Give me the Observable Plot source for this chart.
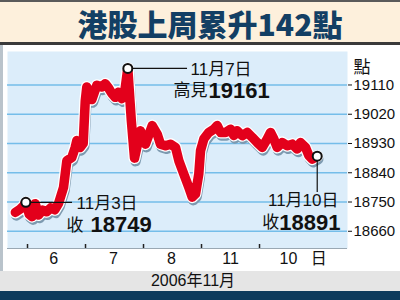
<!DOCTYPE html>
<html><head><meta charset="utf-8">
<script src="https://cdn.jsdelivr.net/npm/d3@7"></script>
<script src="https://cdn.jsdelivr.net/npm/@observablehq/plot@0.6"></script>
<style>
body{margin:0;background:#fff;}
#wrap{position:relative;width:400px;height:300px;background:#fff;overflow:hidden;font-family:"Liberation Sans","Noto Sans CJK TC",sans-serif;}
.abs{position:absolute;}
</style></head>
<body>
<div id="wrap">
  <div class="abs" style="left:0;top:0;width:400px;height:2px;background:#5a5a5a"></div>
  <div class="abs" style="left:0;top:2px;width:400px;height:40px;background:#fdf0dc;"></div>
  <div class="abs" style="left:0;top:3px;width:420px;height:40px;line-height:40px;text-align:center;font-family:'Noto Sans CJK TC',sans-serif;font-weight:900;font-size:30px;color:#133f64;">港股上周累升142點</div>
  <div class="abs" style="left:0;top:42px;width:400px;height:3px;background:#3a3a3a"></div>
  <div id="chart" class="abs" style="left:0;top:45px"></div>
  <div class="abs" style="left:0;top:45px;width:3px;height:226px;background:#b9c3cb"></div>
  <div class="abs" style="left:0;top:271px;width:400px;height:20px;line-height:20px;background:#e5e5e5;text-align:center;font-size:16px;color:#111;"><span style="position:relative;left:-7px">2006年11月</span></div>
  <div class="abs" style="left:0;top:291px;width:400px;height:9px;background:#0d3a5c"></div>
</div>
<script>
// intraday index (x in trading-day units) and Hang Seng values
const tPos = [0.79,0.874,0.931,0.971,1.03,1.08,1.133,1.19,1.26,1.33,1.40,1.47,1.534,1.621,1.678,1.764,1.822,1.85,1.909,1.96,
  1.995,2.022,2.081,2.109,2.195,2.281,2.34,2.40,2.453,2.512,2.569,2.626,2.68,2.729,2.79,2.845,2.948,3.034,3.15,3.236,
  3.293,3.379,3.466,3.552,3.609,3.695,3.781,3.84,3.897,3.953,3.983,4.04,4.126,4.212,4.271,4.328,4.414,4.5,4.558,4.616,
  4.702,4.788,4.874,4.96,5.047,5.133,5.19,5.247,5.305,5.391,5.478,5.564,5.65,5.707,5.793,5.85,5.908,5.995];
const vals = [18718,18728,18738,18749,18712,18705,18745,18710,18725,18720,18732,18726,18745,18795,18877,18887,18918,18939,18918,18930,
  19060,19104,19084,19065,19109,19104,19114,19100,19084,19072,19088,19068,19095,19161,19000,18885,18969,18928,18985,18959,
  18928,18923,18928,18918,18877,18836,18795,18765,18775,18836,18908,18944,18964,18974,18985,18964,18964,18974,18955,18969,
  18954,18964,18949,18933,18918,18944,18964,18944,18918,18933,18923,18928,18913,18933,18918,18893,18882,18891];
const yTicks = [18660, 18750, 18840, 18930, 19020, 19110];
const dayBreaks = [1, 2, 3, 4, 5];
const dayLabels = ["6", "7", "8", "11", "10", "日"];
const dayLabelPos = [1.45, 2.48, 3.48, 4.5, 5.5, 6.02];

// annotations
const markers = [{t: 0.971, v: 18749}, {t: 2.729, v: 19161}, {t: 5.995, v: 18891}];
const hConnectors = [{x1: 0.971, x2: 1.776, v: 18749}, {x1: 2.729, x2: 3.759, v: 19161}];
const vConnectors = [{t: 5.995, v1: 18891, v2: 18779}];
const plainNotes = [
  {t: 1.845, v: 18745, text: "11月3日", anchor: "start"},
  {t: 1.672, v: 18678, text: "收", anchor: "start"},
  {t: 3.81, v: 19156, text: "11月7日", anchor: "start"},
  {t: 3.517, v: 19092, text: "高見", anchor: "start"},
  {t: 6.362, v: 18754, text: "11月10日", anchor: "end"},
  {t: 5.34, v: 18687, text: "收", anchor: "end"}
];
const boldNotes = [
  {t: 2.086, v: 18678, text: "18749", anchor: "start"},
  {t: 4.121, v: 19092, text: "19161", anchor: "start"},
  {t: 6.397, v: 18687, text: "18891", anchor: "end"}
];

const data = tPos.map((t, i) => ({t, v: vals[i]}));
const font = '"Liberation Sans","Noto Sans CJK TC",sans-serif';
const lineOpts = {x: "t", y: "v", strokeLinejoin: "round", strokeLinecap: "round"};
const noteMarks = [];
for (const anchor of ["start", "end"]) {
  noteMarks.push(Plot.text(plainNotes.filter(d => d.anchor === anchor), {x: "t", y: "v", text: "text", textAnchor: anchor, fontSize: 17, fill: "#111", letterSpacing: "1px"}));
  noteMarks.push(Plot.text(boldNotes.filter(d => d.anchor === anchor), {x: "t", y: "v", text: "text", textAnchor: anchor, fontSize: 22, fontWeight: "bold", fill: "#111"}));
}

const chart = Plot.plot({
  width: 400, height: 226,
  marginTop: 6, marginBottom: 23, marginLeft: 7, marginRight: 53,
  x: {domain: [0.655, 6.517], axis: null},
  y: {domain: [18607, 19213]},
  style: {fontFamily: font, background: "transparent", overflow: "visible", color: "#111"},
  marks: [
    Plot.frame({fill: "#dcedfa", stroke: null}),
    Plot.gridY(yTicks, {stroke: "#74bde9", strokeOpacity: 1, strokeWidth: 1.5}),
    Plot.ruleY([18607], {stroke: "#9aa8b3", strokeWidth: 1}),
    Plot.axisY(yTicks, {anchor: "right", tickSize: 4, tickPadding: 2, fontSize: 15, tickFormat: d => String(d), color: "#111"}),
    Plot.tickX(dayBreaks, {x: d => d, insetTop: 193, stroke: "#222", strokeWidth: 1.5}),
    Plot.text(dayLabels, {x: (d, i) => dayLabelPos[i], frameAnchor: "bottom", dy: 15, fontSize: 16, fill: "#111"}),
    Plot.text(["點"], {frameAnchor: "top-right", dx: 23, dy: 9, fontSize: 17, fill: "#111"}),
    Plot.line(data, {...lineOpts, stroke: "#7d9ab0", strokeWidth: 10.5, dx: 1, dy: 3}),
    Plot.line(data, {...lineOpts, stroke: "#ffffff", strokeWidth: 12}),
    Plot.line(data, {...lineOpts, stroke: "#e3001b", strokeWidth: 9.5}),
    Plot.ruleY(hConnectors, {x1: "x1", x2: "x2", y: "v", stroke: "#111", strokeWidth: 1.2}),
    Plot.ruleX(vConnectors, {x: "t", y1: "v1", y2: "v2", stroke: "#111", strokeWidth: 1.2}),
    Plot.dot(markers, {x: "t", y: "v", r: 4.5, fill: "#fff", stroke: "#111", strokeWidth: 2}),
    ...noteMarks
  ]
});
document.getElementById("chart").appendChild(chart);
</script>
</body></html>
